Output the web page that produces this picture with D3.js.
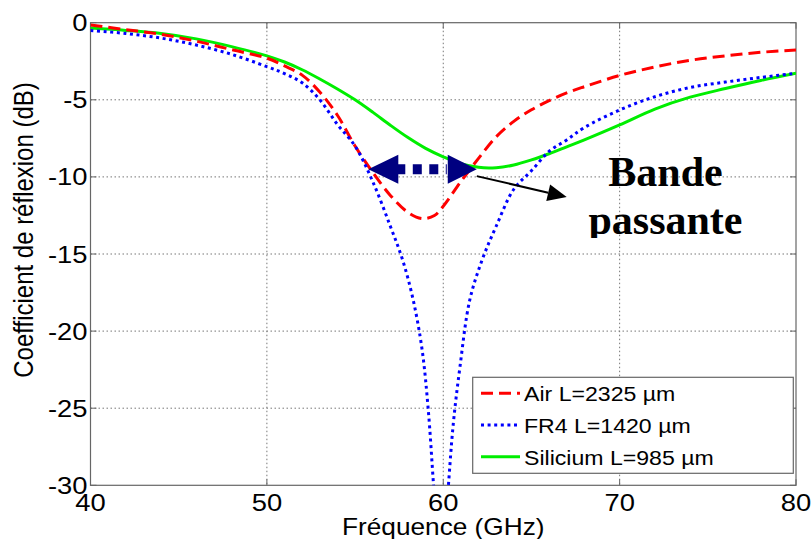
<!DOCTYPE html>
<html><head><meta charset="utf-8">
<script src="https://cdn.jsdelivr.net/npm/d3@7"></script>
<style>body{margin:0;background:#fff}svg{display:block}</style>
</head><body>
<svg id="c" width="812" height="539"></svg>
<script>
// ---- data ----
const freqAir = [40,42,44,46,48,50,51,52,53,54,55,56,57,58,58.8,59.5,60,61,62,63,64,65,66,67,68,70,72,74,76,78,80];
const air     = [-0.15,-0.45,-0.75,-1.2,-1.75,-2.3,-2.8,-3.4,-4.5,-6.0,-8.0,-9.7,-11.2,-12.3,-12.7,-12.5,-11.9,-10.3,-8.8,-7.4,-6.4,-5.65,-5.05,-4.55,-4.15,-3.42,-2.87,-2.44,-2.15,-1.92,-1.77];
const freqFr4 = [40,42,44,46,48,50,51,52,53,54,55,56,57,57.7,58.3,58.8,59.15,59.45,59.7,60.05,60.3,60.57,60.95,61.5,62.2,63,64,65,66,67,68,70,72,74,76,78,80];
const fr4     = [-0.5,-0.7,-1.0,-1.45,-2.05,-2.85,-3.3,-3.9,-5.0,-6.6,-8.0,-10.3,-13.2,-15.4,-18,-21.2,-25.1,-30,-34,-34,-29.9,-26,-22.3,-18,-15.4,-13.2,-10.8,-9.6,-8.35,-7.6,-6.8,-5.66,-4.8,-4.2,-3.85,-3.55,-3.28];
const freqSi  = [40,42,44,46,48,50,51,52,53,54,55,56,57,58,59,60,61,62,63,64,65,66,67,68,70,72,74,76,78,80];
const si      = [-0.35,-0.5,-0.7,-1.05,-1.55,-2.15,-2.55,-3.05,-3.65,-4.3,-5.0,-5.8,-6.65,-7.45,-8.15,-8.7,-9.15,-9.38,-9.4,-9.23,-8.9,-8.5,-8.05,-7.6,-6.63,-5.6,-4.83,-4.27,-3.75,-3.28];
const seriesNames = ["Air L=2325 µm","FR4 L=1420 µm","Silicium L=985 µm"];
const xTicks = [40,50,60,70,80];
const yTicks = [0,-5,-10,-15,-20,-25,-30];
const xLabel = "Fréquence (GHz)";
const yLabel = "Coefficient de réflexion (dB)";
const bandArrow = [55.75, 61.9, -9.5];      // f start, f end, level
const pointerArrow = [61.9, -9.95, 67.0, -11.3];
const annoText = ["Bande","passante"];
const annoPos = [72.6, -10.6, -13.7];

// ---- layout ----
const L=90.5, R=796, T=22.7, B=485.3;
const x = d3.scaleLinear().domain([40,80]).range([L,R]);
const y = d3.scaleLinear().domain([-30,0]).range([B,T]);
const svg = d3.select("#c");
const sx = 1.14;

svg.append("defs").append("clipPath").attr("id","plot")
  .append("rect").attr("x",L).attr("y",T).attr("width",R-L).attr("height",B-T);
svg.select("defs").append("clipPath").attr("id","txt")
  .append("rect").attr("x",0).attr("y",0).attr("width",812).attr("height",238);

// grid
const grid = svg.append("g").attr("stroke","#777").attr("stroke-width",1).attr("stroke-dasharray","1.5,2.5");
grid.selectAll("line.gx").data(xTicks.slice(1,-1)).join("line")
  .attr("x1",d=>x(d)).attr("x2",d=>x(d)).attr("y1",T).attr("y2",B);
grid.selectAll("line.gy").data(yTicks.slice(1,-1)).join("line")
  .attr("y1",d=>y(d)).attr("y2",d=>y(d)).attr("x1",L).attr("x2",R);

// frame and ticks
svg.append("rect").attr("x",L).attr("y",T).attr("width",R-L).attr("height",B-T)
  .attr("fill","none").attr("stroke","#666").attr("stroke-width",1.2);
const tk = svg.append("g").attr("stroke","#666").attr("stroke-width",1);
xTicks.forEach(v=>{tk.append("line").attr("x1",x(v)).attr("x2",x(v)).attr("y1",B).attr("y2",B-6);
                   tk.append("line").attr("x1",x(v)).attr("x2",x(v)).attr("y1",T).attr("y2",T+6);});
yTicks.forEach(v=>{tk.append("line").attr("y1",y(v)).attr("y2",y(v)).attr("x1",L).attr("x2",L+6);
                   tk.append("line").attr("y1",y(v)).attr("y2",y(v)).attr("x1",R).attr("x2",R-6);});

// tick labels
const font = "Liberation Sans, Arial, sans-serif";
svg.append("g").selectAll("text").data(xTicks).join("text")
  .attr("transform",d=>`translate(${x(d)},${B+26}) scale(${sx},1)`)
  .attr("text-anchor","middle").attr("font-family",font).attr("font-size",24).text(d=>d);
svg.append("g").selectAll("text").data(yTicks).join("text")
  .attr("transform",d=>`translate(${L-3},${y(d)+8.5}) scale(${sx},1)`)
  .attr("text-anchor","end").attr("font-family",font).attr("font-size",24).text(d=>d);
svg.append("text").attr("transform",`translate(${(L+R)/2},535) scale(${sx},1)`)
  .attr("text-anchor","middle").attr("font-family",font).attr("font-size",23).text(xLabel);
svg.append("text").attr("transform",`translate(33,${(T+B)/2-24}) rotate(-90) scale(1,${sx})`)
  .attr("text-anchor","middle").attr("font-family",font).attr("font-size",24).text(yLabel);

// lines
const line = d3.line().x(d=>x(d[0])).y(d=>y(d[1])).curve(d3.curveCatmullRom.alpha(0.5));
const gL = svg.append("g").attr("clip-path","url(#plot)").attr("fill","none");
const styles = [
  {f:freqAir, v:air, c:"#ff0000", dash:"12,6"},
  {f:freqFr4, v:fr4, c:"#0000ff", dash:"3,3.6"},
  {f:freqSi,  v:si,  c:"#00ee00", dash:null}
];
[styles[2],styles[0],styles[1]].forEach(s=>{
  gL.append("path").datum(s.f.map((f,i)=>[f,s.v[i]])).attr("d",line)
    .attr("stroke",s.c).attr("stroke-width",3).attr("stroke-dasharray",s.dash);
});

// annotation: band arrow
const navy = "#000080";
const ay = y(bandArrow[2]);
const xa = x(bandArrow[0]), xb = x(bandArrow[1]);
svg.append("line").attr("x1",xa+28).attr("x2",xb-30).attr("y1",ay).attr("y2",ay)
  .attr("stroke",navy).attr("stroke-width",10).attr("stroke-dasharray","9,7.5");
svg.append("path").attr("d",`M${xa},${ay} L${xa+30},${ay-14.5} L${xa+30},${ay+14.5} Z`).attr("fill",navy);
svg.append("path").attr("d",`M${xb},${ay} L${xb-29},${ay-14.5} L${xb-29},${ay+14.5} Z`).attr("fill",navy);

// pointer arrow
const p1=[x(pointerArrow[0]),y(pointerArrow[1])], p2=[x(pointerArrow[2]),y(pointerArrow[3])];
const ang = Math.atan2(p2[1]-p1[1],p2[0]-p1[0]);
const hl=19, hw=8.5;
const bx=p2[0]-hl*Math.cos(ang), by=p2[1]-hl*Math.sin(ang);
svg.append("line").attr("x1",p1[0]).attr("y1",p1[1]).attr("x2",bx).attr("y2",by)
  .attr("stroke","#000").attr("stroke-width",2);
svg.append("path").attr("d",`M${p2[0]},${p2[1]} L${bx-hw*Math.sin(ang)},${by+hw*Math.cos(ang)} L${bx+hw*Math.sin(ang)},${by-hw*Math.cos(ang)} Z`).attr("fill","#000");

// text annotation
const gt = svg.append("g").attr("clip-path","url(#txt)");
gt.append("text").attr("x",x(annoPos[0])).attr("y",y(annoPos[1])).attr("text-anchor","middle")
  .attr("font-family","Liberation Serif, Times New Roman, serif").attr("font-weight","bold").attr("font-size",42).text(annoText[0]);
gt.append("text").attr("x",x(annoPos[0])).attr("y",y(annoPos[2])).attr("text-anchor","middle")
  .attr("font-family","Liberation Serif, Times New Roman, serif").attr("font-weight","bold").attr("font-size",42).text(annoText[1]);

// legend
const lg = svg.append("g");
lg.append("rect").attr("x",472.7).attr("y",377.3).attr("width",320.6).attr("height",96)
  .attr("fill","#fff").attr("stroke","#666").attr("stroke-width",1.2);
seriesNames.forEach((n,i)=>{
  const yy = 393.3 + i*31.7;
  lg.append("line").attr("x1",481).attr("x2",520).attr("y1",yy).attr("y2",yy)
    .attr("stroke",styles[i].c).attr("stroke-width",3).attr("stroke-dasharray",styles[i].dash);
  lg.append("text").attr("transform",`translate(524,${yy+8}) scale(1.1,1)`)
    .attr("font-family",font).attr("font-size",21).text(n);
});
</script>
</body></html>
